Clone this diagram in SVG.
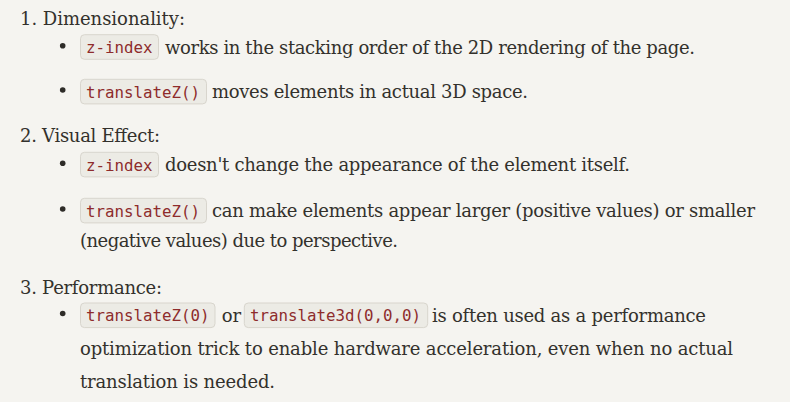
<svg xmlns="http://www.w3.org/2000/svg" width="790" height="402" viewBox="0 0 790 402">
<style>
.t{font-family:"DejaVu Serif","Liberation Serif",serif;font-size:18px;fill:#33312c}
.c{font-family:"DejaVu Sans Mono","Liberation Mono",monospace;font-size:15.8px;fill:#8e2c2c}
.b{fill:#ecebe5;stroke:#d8d5cd;stroke-width:1}
.d{fill:#2e2c28}
</style>
<rect width="790" height="402" fill="#f5f4f0"/>
<g id="section1">
<text class="t" x="20" y="25" textLength="165">1. Dimensionality:</text>
<circle class="d" cx="62.7" cy="45.7" r="2.8"/>
<rect class="b" x="80.5" y="34.7" width="78" height="24.6" rx="4"/>
<text class="c" x="86" y="53" textLength="66.5">z-index</text>
<text class="t" x="165" y="53.5" textLength="530">works in the stacking order of the 2D rendering of the page.</text>
<circle class="d" cx="62.7" cy="90" r="2.8"/>
<rect class="b" x="80.5" y="79.3" width="126" height="24.6" rx="4"/>
<text class="c" x="86" y="97.5" textLength="114">translateZ()</text>
<text class="t" x="212" y="98" textLength="316">moves elements in actual 3D space.</text>
</g>
<g id="section2">
<text class="t" x="20" y="142" textLength="140">2. Visual Effect:</text>
<circle class="d" cx="62.7" cy="163.3" r="2.8"/>
<rect class="b" x="80.5" y="152.3" width="78" height="24.6" rx="4"/>
<text class="c" x="86" y="170.5" textLength="66.5">z-index</text>
<text class="t" x="165" y="171" textLength="465">doesn't change the appearance of the element itself.</text>
<circle class="d" cx="62.7" cy="209" r="2.8"/>
<rect class="b" x="80.5" y="198.3" width="126" height="24.6" rx="4"/>
<text class="c" x="86" y="216.5" textLength="114">translateZ()</text>
<text class="t" x="212" y="217" textLength="543">can make elements appear larger (positive values) or smaller</text>
<text class="t" x="80" y="247" textLength="318">(negative values) due to perspective.</text>
</g>
<g id="section3">
<text class="t" x="20" y="294" textLength="142">3. Performance:</text>
<circle class="d" cx="62.7" cy="313.5" r="2.8"/>
<rect class="b" x="80.5" y="303" width="134.5" height="24.6" rx="4"/>
<text class="c" x="86" y="321.3" textLength="123.5">translateZ(0)</text>
<text class="t" x="221.7" y="321.8">or</text>
<rect class="b" x="244.3" y="303" width="183.4" height="24.6" rx="4"/>
<text class="c" x="250" y="321.3" textLength="171">translate3d(0,0,0)</text>
<text class="t" x="432" y="321.8" textLength="274">is often used as a performance</text>
<text class="t" x="80" y="355" textLength="653">optimization trick to enable hardware acceleration, even when no actual</text>
<text class="t" x="80" y="388" textLength="195">translation is needed.</text>
</g>
</svg>
